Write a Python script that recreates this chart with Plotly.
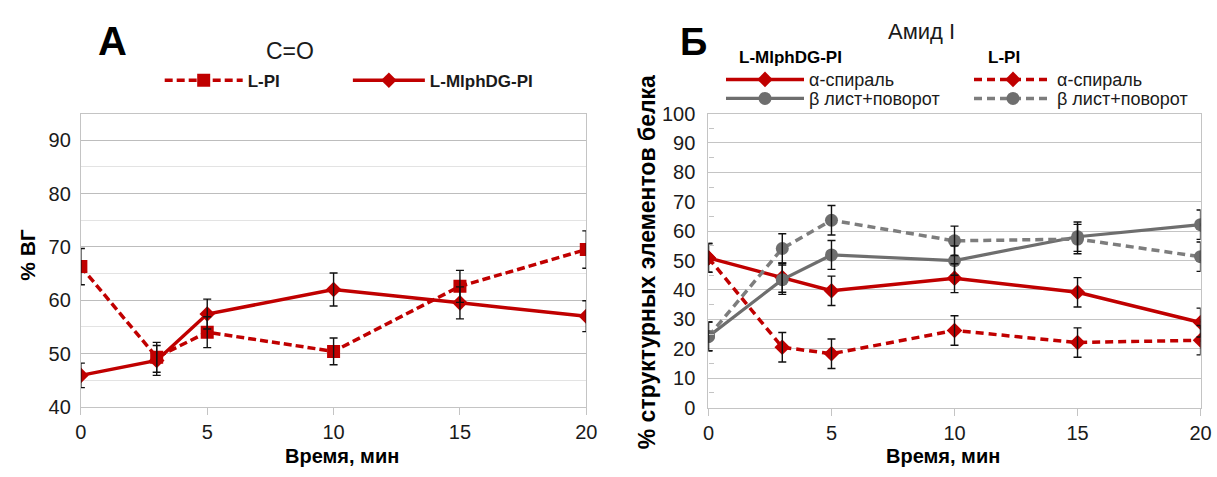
import plotly.graph_objects as go

W, H = 1217, 477

# ---------------- data ----------------
time_min = [0, 3, 5, 10, 15, 20]
x_ticks = [0, 5, 10, 15, 20]

# Panel A: C=O, % ВГ
a_lpi = [66.3, 49.3, 54.0, 50.4, 62.6, 69.5]
a_lpi_err = [3.4, 2.8, 2.9, 2.5, 3.0, 3.5]
a_mlph = [45.9, 48.7, 57.4, 62.0, 59.5, 57.0]
a_mlph_err = [2.3, 2.8, 2.8, 3.1, 3.0, 2.9]

# Panel B: Amide I, % structural elements
b_mlph_alpha = [50.9, 44.2, 39.7, 44.0, 39.2, 28.9]
b_mlph_alpha_err = [4.9, 5.0, 5.0, 4.9, 5.0, 4.9]
b_mlph_beta = [24.2, 43.5, 51.9, 50.0, 58.1, 62.2]
b_mlph_beta_err = [4.9, 5.0, 4.9, 5.0, 5.0, 5.0]
b_lpi_alpha = [50.9, 20.5, 18.3, 26.2, 22.1, 22.9]
b_lpi_alpha_err = [4.9, 5.0, 5.0, 5.0, 5.0, 5.0]
b_lpi_beta = [24.2, 54.1, 63.7, 56.7, 57.3, 51.3]
b_lpi_beta_err = [4.9, 5.0, 5.0, 5.0, 5.0, 5.0]

name_lpi = "L-PI"
name_mlph = "L-MlphDG-PI"
name_alpha = "α-спираль"
name_beta = "β лист+поворот"

RED = "#c00000"
GRAY = "#6e6e6e"
GRAY_D = "#7d7d7d"
FONT = "Liberation Sans"
TXT = "#1a1a1a"


def px(x):
    return min(1.0, max(0.0, x / W))


def py(y):
    return min(1.0, max(0.0, 1 - y / H))


fig = go.Figure()

# ---------- Panel A traces ----------
fig.add_trace(go.Scatter(
    x=time_min, y=a_lpi, name=name_lpi, mode="lines+markers",
    line=dict(color=RED, width=3.5, dash="8px,4px"),
    marker=dict(symbol="square", size=13, color=RED),
    xaxis="x", yaxis="y", legend="legend"))
fig.add_trace(go.Scatter(
    x=time_min, y=a_mlph, name=name_mlph, mode="lines+markers",
    line=dict(color=RED, width=3.5),
    marker=dict(symbol="diamond", size=12, color=RED),
    xaxis="x", yaxis="y", legend="legend4"))

# ---------- Panel B traces ----------
fig.add_trace(go.Scatter(
    x=time_min, y=b_mlph_alpha, name=name_alpha, mode="lines+markers",
    line=dict(color=RED, width=3.5),
    marker=dict(symbol="diamond", size=12, color=RED),
    xaxis="x2", yaxis="y2", legend="legend2"))
fig.add_trace(go.Scatter(
    x=time_min, y=b_lpi_alpha, name=name_alpha, mode="lines+markers",
    line=dict(color=RED, width=3.5, dash="8px,5px"),
    marker=dict(symbol="diamond", size=12, color=RED),
    xaxis="x2", yaxis="y2", legend="legend2"))
fig.add_trace(go.Scatter(
    x=time_min, y=b_mlph_beta, name=name_beta, mode="lines+markers",
    line=dict(color=GRAY, width=3.2),
    marker=dict(symbol="circle", size=13, color=GRAY),
    xaxis="x2", yaxis="y2", legend="legend3"))
fig.add_trace(go.Scatter(
    x=time_min, y=b_lpi_beta, name=name_beta, mode="lines+markers",
    line=dict(color=GRAY_D, width=3.5, dash="8px,5px"),
    marker=dict(symbol="circle", size=13, color=GRAY),
    xaxis="x2", yaxis="y2", legend="legend3"))

# ---------- error bars on top ----------
err_sets = [
    ("x", "y", a_lpi, a_lpi_err),
    ("x", "y", a_mlph, a_mlph_err),
    ("x2", "y2", b_mlph_alpha, b_mlph_alpha_err),
    ("x2", "y2", b_lpi_alpha, b_lpi_alpha_err),
    ("x2", "y2", b_mlph_beta, b_mlph_beta_err),
    ("x2", "y2", b_lpi_beta, b_lpi_beta_err),
]
for xa, ya, yv, ev in err_sets:
    fig.add_trace(go.Scatter(
        x=time_min, y=yv, mode="markers", showlegend=False, hoverinfo="skip",
        marker=dict(size=1, color="rgba(0,0,0,0)"),
        error_y=dict(type="data", array=ev, visible=True, color="#111111",
                     thickness=1.4, width=4),
        xaxis=xa, yaxis=ya, cliponaxis=False))

axis_common = dict(showline=True, linecolor="#c4c4c4", linewidth=1.2, mirror=True,
                   zeroline=False, tickfont=dict(family=FONT, size=20, color=TXT))

legend_bold = dict(family=FONT, size=17, color=TXT, weight="bold")
legend_reg = dict(family=FONT, size=18, color=TXT)

fig.update_layout(
    width=W, height=H,
    margin=dict(l=0, r=0, t=0, b=0),
    paper_bgcolor="white", plot_bgcolor="white",
    font=dict(family=FONT, color=TXT),
    xaxis=dict(domain=[px(76), px(589)], range=[0, 20], tickvals=x_ticks,
               ticks="outside", ticklen=7, tickcolor="#c4c4c4", showgrid=False,
               anchor="y", **axis_common),
    yaxis=dict(domain=[py(415), py(107.5)], range=[40, 95], tick0=40, dtick=10,
               showgrid=True, gridcolor="#bdbdbd", gridwidth=1.2, ticks="",
               ticklabelstandoff=5,
               minor=dict(dtick=5, showgrid=True, gridcolor="#e3e3e3", gridwidth=1),
               anchor="x", **axis_common),
    xaxis2=dict(domain=[px(713), px(1212.5)], range=[0, 20], tickvals=x_ticks,
                ticks="outside", ticklen=7, tickcolor="#c4c4c4", showgrid=False,
                anchor="y2", **axis_common),
    yaxis2=dict(domain=[py(415.7), py(107.5)], range=[0, 100], tick0=0, dtick=10,
                showgrid=True, gridcolor="#c4c4c4", gridwidth=1.2, ticks="",
                ticklabelstandoff=8,
                minor=dict(dtick=5, ticks="inside", ticklen=5, tickcolor="#c4c4c4",
                           showgrid=False),
                anchor="x2", **axis_common),
    legend=dict(orientation="h", x=px(156), y=py(73), xanchor="left", yanchor="middle",
                itemwidth=78, font=legend_bold,
                bgcolor="rgba(0,0,0,0)", traceorder="normal"),
    legend4=dict(orientation="h", x=px(347), y=py(73), xanchor="left", yanchor="middle",
                 itemwidth=72, font=legend_bold,
                 bgcolor="rgba(0,0,0,0)", traceorder="normal"),
    legend2=dict(orientation="h", x=px(726), y=py(72), xanchor="left", yanchor="middle",
                 itemwidth=78, entrywidth=155, entrywidthmode="pixels",
                 font=legend_reg, bgcolor="rgba(0,0,0,0)", traceorder="normal"),
    legend3=dict(orientation="h", x=px(726), y=py(92), xanchor="left", yanchor="middle",
                 itemwidth=78, entrywidth=155, entrywidthmode="pixels",
                 font=legend_reg, bgcolor="rgba(0,0,0,0)", traceorder="normal"),
)


def ann(text, x, y, size, bold=False, angle=0):
    fig.add_annotation(text=text, x=px(x), y=py(y), xref="paper", yref="paper",
                       showarrow=False, textangle=angle, xanchor="center", yanchor="middle",
                       font=dict(family=FONT, size=size, color="#000000" if bold else TXT,
                                 weight="bold" if bold else "normal"))


ann("А", 108, 31, 40, bold=True)
ann("C=O", 288, 42, 23)
ann("Б", 698, 33, 38, bold=True)
ann("Амид I", 929, 22, 22)
ann("L-MlphDG-PI", 796, 49, 17, bold=True)
ann("L-PI", 1013, 49, 17, bold=True)
ann("% ВГ", 22, 256, 21, bold=True, angle=-90)
ann("% структурных элементов белка", 650, 263, 23, bold=True, angle=-90)
ann("Время, мин", 341, 466, 20, bold=True)
ann("Время, мин", 951, 466, 20, bold=True)

fig.write_html("out.html")
